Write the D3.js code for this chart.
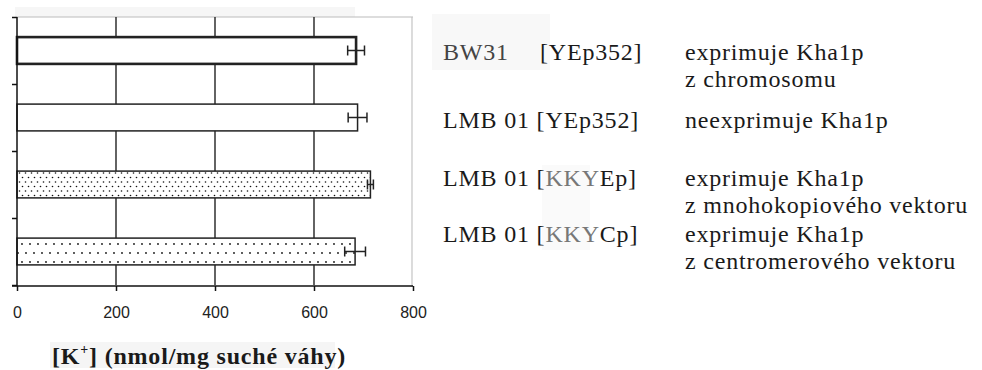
<!DOCTYPE html>
<html>
<head>
<meta charset="utf-8">
<script src="https://cdn.jsdelivr.net/npm/d3@7/dist/d3.min.js"></script>
<style>
  html, body { margin: 0; padding: 0; background: #fff; }
  svg { display: block; }
  .serif { font-family: 'Liberation Serif', 'Times New Roman', serif; }
</style>
</head>
<body>
<div id="chart"></div>
<script>
// data
const strains = ['BW31', 'LMB 01', 'LMB 01', 'LMB 01'];
const plasmids = ['[YEp352]', '[YEp352]', '[KKYEp]', '[KKYCp]'];
const notes = [
  ['exprimuje Kha1p', 'z chromosomu'],
  ['neexprimuje Kha1p'],
  ['exprimuje Kha1p', 'z mnohokopiového vektoru'],
  ['exprimuje Kha1p', 'z centromerového vektoru']
];
const potassium = [685, 688, 714, 683];
const errors = [17, 19, 6, 21];
const xTicks = [0, 200, 400, 600, 800];
const fills = ['white', 'white', 'url(#dense)', 'url(#sparse)'];

const W = 982, H = 370;
const svg = d3.select('#chart').append('svg').attr('width', W).attr('height', H);

// faint scan shading
svg.append('rect').attr('x', 15).attr('y', 7).attr('width', 340).attr('height', 10).attr('fill', '#f6f6f6');
svg.append('rect').attr('x', 432).attr('y', 14).attr('width', 118).attr('height', 56).attr('fill', '#f8f8f8');
svg.append('rect').attr('x', 542).attr('y', 165).attr('width', 48).attr('height', 85).attr('fill', '#fafafa');
svg.append('rect').attr('x', 50).attr('y', 342).attr('width', 285).attr('height', 26).attr('fill', '#f5f5f5');

const defs = svg.append('defs');
const dense = defs.append('pattern').attr('id', 'dense').attr('patternUnits', 'userSpaceOnUse')
  .attr('width', 6).attr('height', 9);
dense.append('rect').attr('width', 6).attr('height', 9).attr('fill', 'white');
dense.append('circle').attr('cx', 1.5).attr('cy', 2).attr('r', 0.8).attr('fill', '#111');
dense.append('circle').attr('cx', 4.5).attr('cy', 6.5).attr('r', 0.8).attr('fill', '#111');
const sparse = defs.append('pattern').attr('id', 'sparse').attr('patternUnits', 'userSpaceOnUse')
  .attr('width', 8).attr('height', 18);
sparse.append('rect').attr('width', 8).attr('height', 18).attr('fill', 'white');
sparse.append('circle').attr('cx', 2).attr('cy', 1).attr('r', 0.9).attr('fill', '#111');
sparse.append('circle').attr('cx', 6).attr('cy', 10).attr('r', 0.9).attr('fill', '#111');

const pLeft = 17, pRight = 413, pTop = 17, pBottom = 285;
const x = d3.scaleLinear().domain([0, 800]).range([pLeft, pRight]);
const y = d3.scaleBand().domain(d3.range(strains.length)).range([pTop, pBottom])
  .paddingInner(0.6).paddingOuter(0.3);
const edges = d3.scaleLinear().domain([0, strains.length]).range([pTop, pBottom]);

// frame: light top and right
svg.append('line').attr('x1', pLeft).attr('x2', pRight).attr('y1', pTop).attr('y2', pTop)
  .attr('stroke', '#bbb').attr('stroke-width', 1.2);
svg.append('line').attr('x1', pRight - 1).attr('x2', pRight - 1).attr('y1', pTop).attr('y2', pBottom + 2)
  .attr('stroke', '#c4c4c4').attr('stroke-width', 1.2);

// vertical grid
svg.append('g').selectAll('line').data(xTicks.slice(1, -1)).enter().append('line')
  .attr('x1', d => x(d)).attr('x2', d => x(d)).attr('y1', pTop).attr('y2', pBottom)
  .attr('stroke', '#222').attr('stroke-width', 1.4);

// bars
svg.append('g').selectAll('rect').data(potassium).enter().append('rect')
  .attr('x', x(0)).attr('y', (d, i) => y(i))
  .attr('width', d => x(d) - x(0)).attr('height', y.bandwidth())
  .attr('fill', (d, i) => fills[i]).attr('stroke', '#222')
  .attr('stroke-width', (d, i) => i === 0 ? 2.6 : 1.5);

// error bars
const eb = svg.append('g').attr('stroke', '#222').attr('stroke-width', 1.5);
potassium.forEach((v, i) => {
  const cy = y(i) + y.bandwidth() / 2;
  eb.append('line').attr('x1', x(v - errors[i])).attr('x2', x(v + errors[i])).attr('y1', cy).attr('y2', cy);
  [v - errors[i], v + errors[i]].forEach(e => {
    eb.append('line').attr('x1', x(e)).attr('x2', x(e)).attr('y1', cy - 5).attr('y2', cy + 5);
  });
});

// left axis
const yAxis = svg.append('g').attr('transform', `translate(${pLeft},0)`)
  .call(d3.axisLeft(edges).tickValues(d3.range(strains.length + 1)).tickSize(5).tickFormat(''));
yAxis.selectAll('path, line').attr('stroke', '#111').attr('stroke-width', 1.5);
yAxis.select('.domain').attr('d', `M0,${pTop}V${pBottom + 1}`);

// bottom axis
const xAxis = svg.append('g').attr('transform', `translate(0,${pBottom + 1})`)
  .call(d3.axisBottom(x).tickValues(xTicks).tickSize(5).tickPadding(16));
xAxis.select('.domain').attr('d', `M${pLeft - 5},0H${pRight}`);
xAxis.selectAll('path, line').attr('stroke', '#111').attr('stroke-width', 1.5);
xAxis.selectAll('text').attr('font-family', 'Liberation Sans, Arial, sans-serif')
  .attr('font-size', 16).attr('fill', '#222');

// axis title
const title = svg.append('text').attr('class', 'serif').attr('x', 52).attr('y', 364)
  .attr('font-weight', 'bold').attr('font-size', 24).attr('letter-spacing', 0.8).attr('fill', '#1a1a1a');
title.append('tspan').text('[K');
title.append('tspan').attr('font-size', 14).attr('dy', -10).text('+');
title.append('tspan').attr('dy', 10).text('] (nmol/mg suché váhy)');

// legend text on the right
const rowBase = [60, 128, 186, 242];
const lg = svg.append('g').attr('class', 'serif').attr('font-size', 24)
  .attr('letter-spacing', 0.8).attr('fill', '#1a1a1a');
strains.forEach((s, i) => {
  const t = lg.append('text').attr('class', 'serif').attr('x', 443).attr('y', rowBase[i]);
  if (i === 0) {
    t.attr('fill', '#444').text(s);
    lg.append('text').attr('class', 'serif').attr('x', 540).attr('y', rowBase[i]).text(plasmids[i]);
  } else {
    t.append('tspan').text(s + ' ');
    const p = plasmids[i];
    if (p.startsWith('[KKY')) {
      t.append('tspan').text('[');
      t.append('tspan').attr('fill', '#777').text('KKY');
      t.append('tspan').text(p.slice(4));
    } else {
      t.append('tspan').text(p);
    }
  }
  notes[i].forEach((n, k) => {
    lg.append('text').attr('class', 'serif').attr('x', 685).attr('y', rowBase[i] + k * 27).text(n);
  });
});
</script>
</body>
</html>
